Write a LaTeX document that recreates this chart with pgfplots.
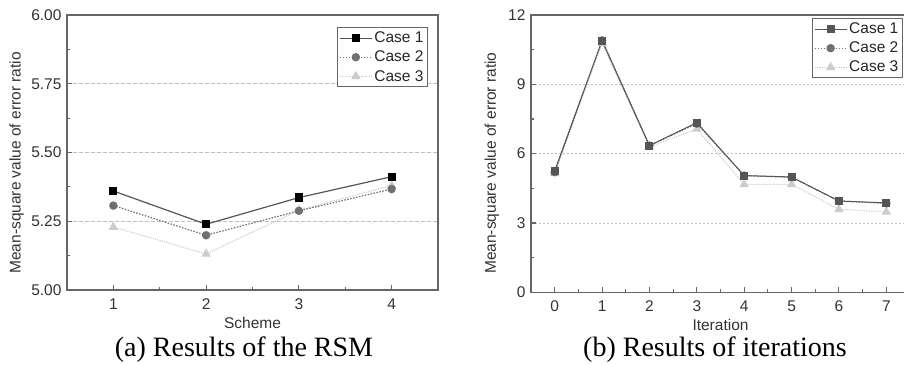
\documentclass[border=0pt]{standalone}
\usepackage{fontspec}
\setmainfont{Liberation Serif}
\setsansfont{Liberation Sans}
\usepackage{pgfplots}
\pgfplotsset{compat=1.18}

\definecolor{axc}{HTML}{666666}
\definecolor{cA}{HTML}{555555}
\definecolor{cB}{HTML}{707070}
\definecolor{cC}{HTML}{CCCCCC}

\pgfplotsset{
  myaxis/.style={
    scale only axis,
    axis line style={axc, line width=1.4pt},
    every tick/.style={axc, line width=1.1pt},
    major tick length=5pt, minor tick length=3pt,
    tick align=inside,
    tick pos=left,
    ymajorgrids,
    grid style={black!25, dash pattern=on 4pt off 2pt, line width=0.8pt},
    tick label style={font=\sffamily\fontsize{15.5}{15.5}\selectfont, text=black!80},
    label style={font=\sffamily\fontsize{15.5}{15.5}\selectfont, text=black!80},
    /pgf/number format/assume math mode=true,
    xlabel style={anchor=center},
    ylabel style={anchor=center},
    legend cell align=left,
    reverse legend,
    legend style={draw=axc, line width=0.9pt, fill=white,
      font=\sffamily\fontsize{15.5}{15.5}\selectfont, text=black!85,
      inner xsep=2pt, inner ysep=1pt, row sep=0pt,
      nodes={inner ysep=3.4pt}},
    legend image code/.code={%
      \draw[#1, mark repeat=2, mark phase=2] plot coordinates {(0pt,0pt) (16pt,0pt) (32pt,0pt)};},
    xticklabel style={yshift=-5pt},
    yticklabel style={xshift=-2pt},
  },
  caseA/.style={cA, line width=1.2pt, mark=square*, mark size=3.5pt,
    mark options={solid, fill=black, draw=black}},
  caseB/.style={cB, line width=1.2pt, dash pattern=on 1.5pt off 1.5pt, mark=*, mark size=3.6pt,
    mark options={solid, fill=cB, draw=cB}},
  caseC/.style={cC, line width=1.1pt, dash pattern=on 1.2pt off 1.2pt, mark=triangle*, mark size=4.4pt,
    mark options={solid, fill=cC, draw=cC}},
}

\begin{document}
\begin{tikzpicture}
% ---------------- (a) ----------------
\begin{axis}[myaxis,
  at={(67pt,74pt)}, anchor=south west,
  width=371pt, height=275pt,
  xmin=0.5, xmax=4.5, ymin=5, ymax=6,
  xtick={1,2,3,4}, minor x tick num=1,
  ytick={5,5.25,5.5,5.75,6}, minor y tick num=1,
  yticklabel style={/pgf/number format/.cd, fixed, fixed zerofill, precision=2},
  xlabel={Scheme}, ylabel={Mean-square value of error ratio},
  xlabel style={at={(axis description cs:0.5,-0.12)}},
  ylabel style={at={(axis description cs:-0.136,0.462)}},
  legend style={at={(0.973,0.956)}, anchor=north east},
]
\addplot[caseC] coordinates {(1,5.229) (2,5.131) (3,5.29) (4,5.38)};
\addlegendentry{Case 3}
\addplot[caseB] coordinates {(1,5.307) (2,5.199) (3,5.288) (4,5.367)};
\addlegendentry{Case 2}
\addplot[caseA] coordinates {(1,5.36) (2,5.239) (3,5.336) (4,5.412)};
\addlegendentry{Case 1}
\end{axis}
% ---------------- (b) ----------------
\begin{axis}[myaxis,
  at={(531pt,71.7pt)}, anchor=south west,
  width=379pt, height=277.3pt,
  xmin=-0.5, xmax=7.5, ymin=0, ymax=12,
  xtick={0,...,7}, minor x tick num=1,
  ytick={0,3,6,9,12}, minor y tick num=1,
  grid style={black!25, dash pattern=on 2pt off 2pt, line width=0.8pt},
  xlabel={Iteration}, ylabel={Mean-square value of error ratio},
  xlabel style={at={(axis description cs:0.5,-0.119)}},
  ylabel style={at={(axis description cs:-0.103,0.466)}},
  legend style={at={(0.981,0.989)}, anchor=north east},
]
\addplot[caseC] coordinates {(0,5.15) (1,10.78) (2,6.3) (3,7.07) (4,4.67) (5,4.67) (6,3.59) (7,3.48)};
\addlegendentry{Case 3}
\addplot[caseB] coordinates {(0,5.2) (1,10.9) (2,6.35) (3,7.3) (4,5.05) (5,4.98) (6,3.95) (7,3.85)};
\addlegendentry{Case 2}
\addplot[caseA, line width=1pt, mark options={solid, fill=cA, draw=cA}] coordinates {(0,5.25) (1,10.89) (2,6.35) (3,7.34) (4,5.05) (5,4.99) (6,3.95) (7,3.87)};
\addlegendentry{Case 1}
\end{axis}
% captions
\node[anchor=base, font=\fontsize{28}{28}\selectfont] at (244pt,8pt) {(a) Results of the RSM};
\node[anchor=base, font=\fontsize{28}{28}\selectfont] at (715pt,8pt) {(b) Results of iterations};
\pgfresetboundingbox
\path[use as bounding box] (0pt,0pt) rectangle (904pt,364pt);
\end{tikzpicture}
\end{document}
